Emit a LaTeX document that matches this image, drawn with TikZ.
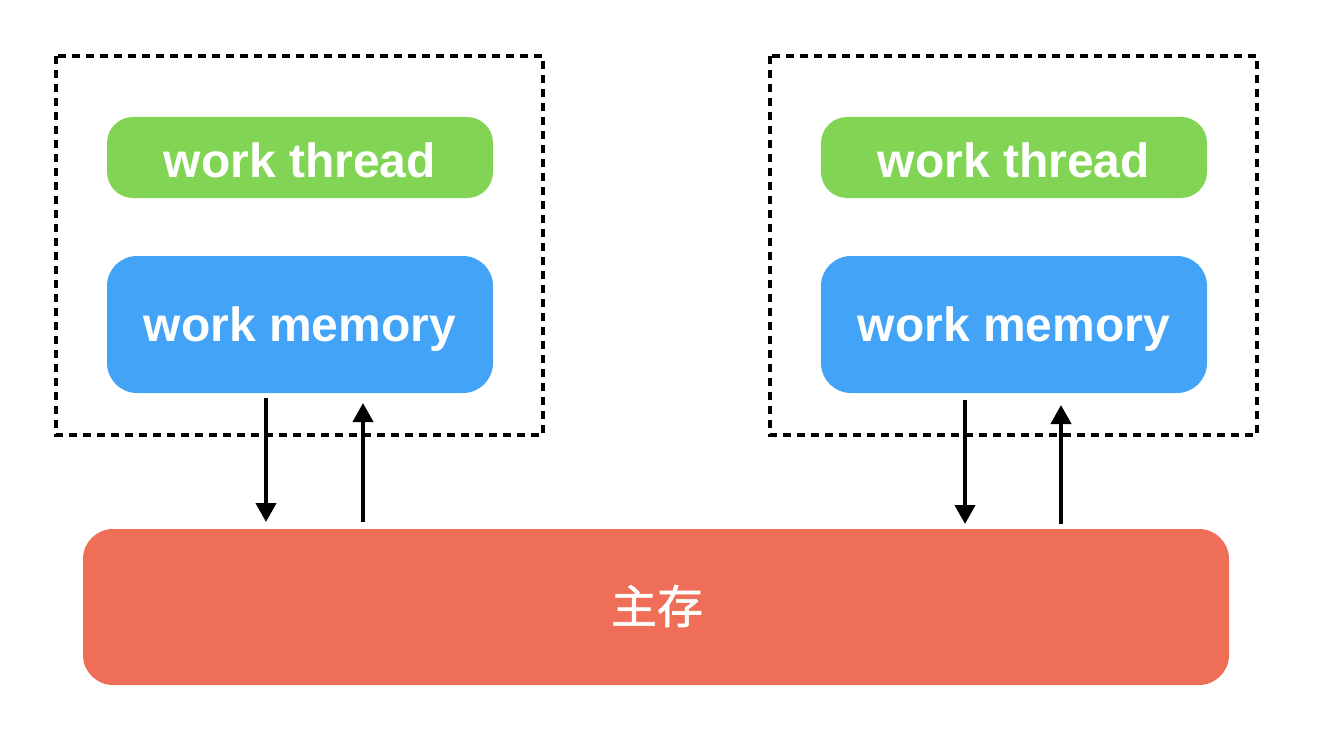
\documentclass[tikz,border=0pt]{standalone}
\usepackage{fontspec}
\setmainfont{Liberation Sans}
\newfontfamily\cjk[FakeBold=1.2]{Noto Sans CJK SC}
\definecolor{thgreen}{HTML}{82D455}
\definecolor{mmblue}{HTML}{42A3F7}
\definecolor{mainred}{HTML}{EE6E58}
\usetikzlibrary{arrows.meta}
\begin{document}
\begin{tikzpicture}[x=1pt,y=-1pt,
  groupbox/.style={draw=black,line width=3.6pt,dash pattern=on 8pt off 6pt},
  threadbox/.style={fill=thgreen,rounded corners=26pt},
  membox/.style={fill=mmblue,rounded corners=30pt},
  mainbox/.style={fill=mainred,rounded corners=30pt},
  lbl/.style={text=white,font=\fontsize{48}{56}\selectfont\bfseries},
  flow/.style={line width=4pt,-{Triangle[width=20pt,length=19pt]}}]
\useasboundingbox (0,0) rectangle (1332,754);
% groups
\draw[groupbox] (56,56) rectangle (543,435);
\draw[groupbox] (770,56) rectangle (1257,435);
% left
\path[threadbox] (107,117) rectangle (493,198);
\node[lbl] (t1) at (300,160) {work thread};
\path[membox] (107,256) rectangle (493,393);
\node[lbl] (m1) at (300,329) {work memory};
% right
\path[threadbox] (821,117) rectangle (1207,198);
\node[lbl] (t2) at (1014,160) {work thread};
\path[membox] (821,256) rectangle (1207,393);
\node[lbl] (m2) at (1014,329) {work memory};
% main memory
\path[mainbox] (83,529) rectangle (1229,685);
\node[text=white,font=\cjk\fontsize{46}{54}\selectfont] (mm) at (657,606) {主存};
% arrows
\coordinate (a1s) at (266,398); \coordinate (a1e) at (266,522);
\coordinate (b1s) at (363,522); \coordinate (b1e) at (363,403);
\coordinate (a2s) at (965,400); \coordinate (a2e) at (965,524);
\coordinate (b2s) at (1061,524); \coordinate (b2e) at (1061,405);
\draw[flow] (a1s) -- (a1e);
\draw[flow] (b1s) -- (b1e);
\draw[flow] (a2s) -- (a2e);
\draw[flow] (b2s) -- (b2e);
\end{tikzpicture}
\end{document}
